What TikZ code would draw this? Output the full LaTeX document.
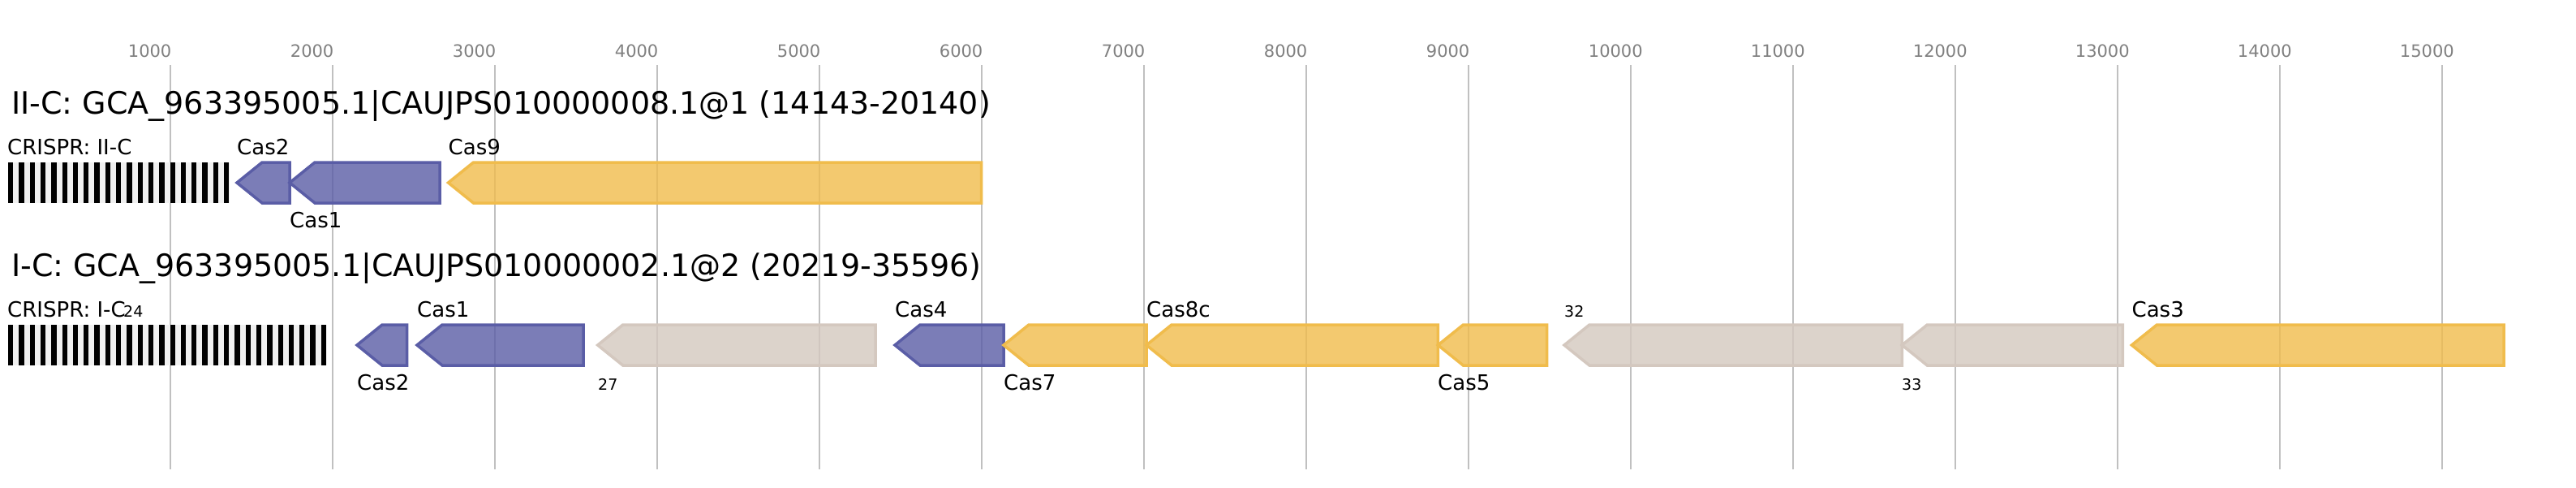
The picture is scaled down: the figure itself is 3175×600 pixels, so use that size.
\documentclass[tikz,border=0pt]{standalone}
\usepackage{fontspec}
\setmainfont{DejaVu Sans}
\definecolor{adapt}{HTML}{5A5DA6}
\definecolor{effect}{HTML}{F0BC4C}
\definecolor{unk}{HTML}{D4C8BF}
\definecolor{gridc}{HTML}{C0C0C0}
\definecolor{tickc}{HTML}{808080}
\definecolor{arrbg}{HTML}{F0F0F0}
\newcommand{\cgene}[4]{%
  \draw[genestyle, draw=#4, fill=#4] (#1,#3) -- (#1+31,#3-25) -- (#2,#3-25) -- (#2,#3+25) -- (#1+31,#3+25) -- cycle;}
\begin{document}
\begin{tikzpicture}[x=1pt,y=-1pt,
  genestyle/.style={line width=3.5pt, fill opacity=0.8, line join=miter},
  gridline/.style={draw=gridc, line width=2pt},
  ticklbl/.style={anchor=base west, inner sep=0pt, text=tickc, font=\fontsize{21}{24}\selectfont},
  titlelbl/.style={anchor=base west, inner sep=0pt, font=\fontsize{38}{44}\selectfont},
  genelbl/.style={anchor=base west, inner sep=0pt, font=\fontsize{26}{30}\selectfont},
  smalllbl/.style={anchor=base west, inner sep=0pt, font=\fontsize{19}{22}\selectfont},
  stripe/.style={fill=black}]
\useasboundingbox[fill=white] (0,0) rectangle (3175,600);
% grid and ticks
\foreach \v in {1,...,15} {
  \draw[gridline] (9.7+200*\v,80) -- (9.7+200*\v,578);
  \node[ticklbl] (tick\v) at (9.7+200*\v-52,70) {\v000};
}
% ---------------- row 1 ----------------
\node[titlelbl] (title1) at (14,140) {II-C: GCA\_963395005.1|CAUJPS010000008.1@1 (14143-20140)};
\fill[arrbg] (10,200) rectangle (282.5,250);
\foreach \i in {0,...,20} { \fill[stripe] (10+13.3*\i,200) rectangle (16.3+13.3*\i,250); }
\node[genelbl] (crispr1) at (9,190) {CRISPR: II-C};
\cgene{292}{357}{225}{adapt}
\cgene{357}{542}{225}{adapt}
\cgene{552.5}{1209.5}{225}{effect}
\node[genelbl] (r1cas2) at (292,190) {Cas2};
\node[genelbl] (r1cas1) at (357,280) {Cas1};
\node[genelbl] (r1cas9) at (552.5,190) {Cas9};
% ---------------- row 2 ----------------
\node[titlelbl] (title2) at (14,340) {I-C: GCA\_963395005.1|CAUJPS010000002.1@2 (20219-35596)};
\fill[arrbg] (10,400) rectangle (402.5,450);
\foreach \i in {0,...,29} { \fill[stripe] (10+13.3*\i,400) rectangle (16.3+13.3*\i,450); }
\node[genelbl] (crispr2) at (9,390) {CRISPR: I-C};
\node[smalllbl] (g24) at (152,390) {24};
\cgene{440}{501.5}{425}{adapt}
\cgene{514}{719}{425}{adapt}
\cgene{736.7}{1079}{425}{unk}
\cgene{1103}{1237}{425}{adapt}
\cgene{1237}{1413}{425}{effect}
\cgene{1413}{1772.4}{425}{effect}
\cgene{1772.4}{1906.6}{425}{effect}
\cgene{1928}{2344.3}{425}{unk}
\cgene{2344.3}{2616.4}{425}{unk}
\cgene{2627.4}{3086}{425}{effect}
\node[genelbl] (r2cas2) at (440,480) {Cas2};
\node[genelbl] (r2cas1) at (514,390) {Cas1};
\node[smalllbl] (g27) at (737,480) {27};
\node[genelbl] (r2cas4) at (1103,390) {Cas4};
\node[genelbl] (r2cas7) at (1237,480) {Cas7};
\node[genelbl] (r2cas8c) at (1413,390) {Cas8c};
\node[genelbl] (r2cas5) at (1772,480) {Cas5};
\node[smalllbl] (g32) at (1928,390) {32};
\node[smalllbl] (g33) at (2344,480) {33};
\node[genelbl] (r2cas3) at (2627.4,390) {Cas3};
\end{tikzpicture}
\end{document}
